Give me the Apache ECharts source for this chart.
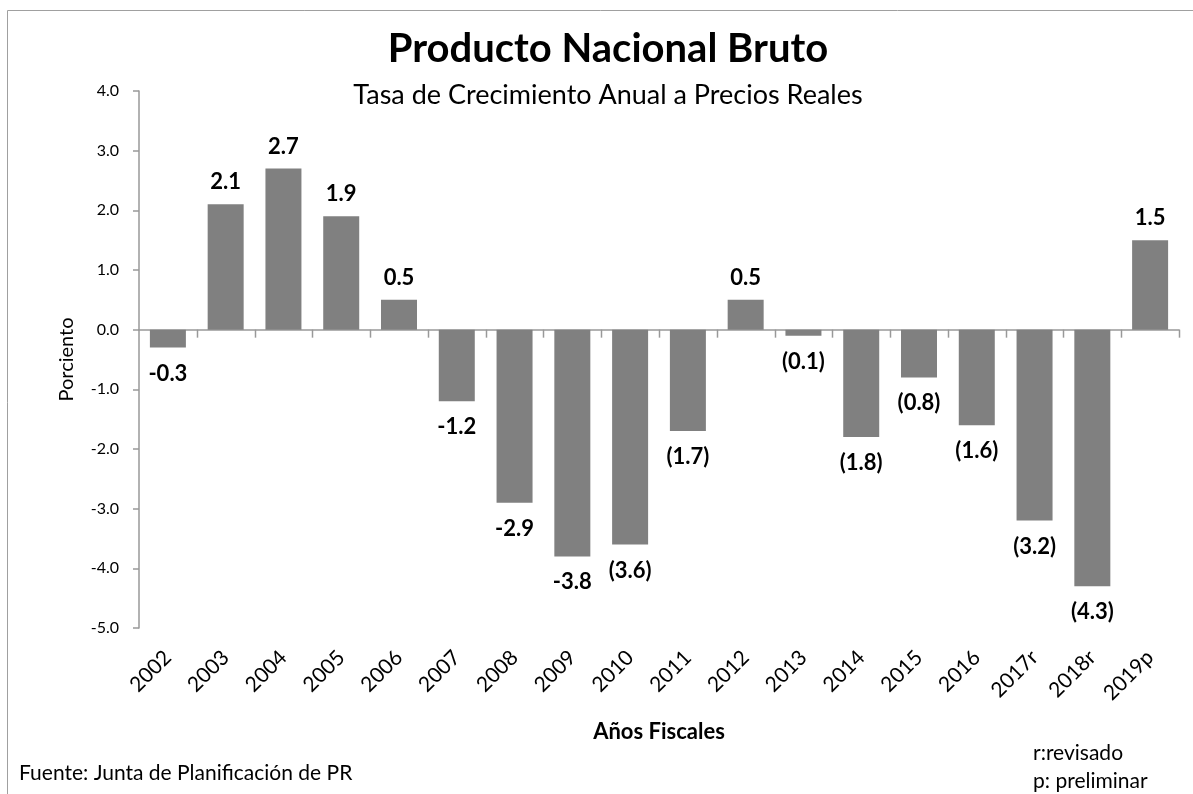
<!DOCTYPE html>
<html><head><meta charset="utf-8">
<script src="https://cdn.jsdelivr.net/npm/echarts@6/dist/echarts.min.js"></script>
<style>html,body{margin:0;padding:0;background:#fff}#c{width:1193px;height:794px}</style>
</head><body><div id="c"></div>
<script>
const categories = ['2002','2003','2004','2005','2006','2007','2008','2009','2010','2011','2012','2013','2014','2015','2016','2017r','2018r','2019p'];
const values = [-0.3, 2.1, 2.7, 1.9, 0.5, -1.2, -2.9, -3.8, -3.6, -1.7, 0.5, -0.1, -1.8, -0.8, -1.6, -3.2, -4.3, 1.5];
const valueLabels = ['-0.3','2.1','2.7','1.9','0.5','-1.2','-2.9','-3.8','(3.6)','(1.7)','0.5','(0.1)','(1.8)','(0.8)','(1.6)','(3.2)','(4.3)','1.5'];
const yTicks = {min: -5, max: 4, interval: 1};

const FONT = 'Lato, "Open Sans", sans-serif';
const AXIS_GRAY = '#999999';
const chart = echarts.init(document.getElementById('c'));
chart.setOption({
  animation: false,
  textStyle: {fontFamily: FONT, color: '#000'},
  title: [
    {text: 'Producto Nacional Bruto', left: 603, textAlign: 'center', top: 24,
     textStyle: {fontFamily: FONT, fontSize: 40, fontWeight: 'bold', color: '#000'}},
    {text: 'Tasa de Crecimiento Anual a Precios Reales', left: 603, textAlign: 'center', top: 77,
     textStyle: {fontFamily: FONT, fontSize: 27, fontWeight: 'normal', color: '#000'}}
  ],
  grid: {left: 139, right: 14, top: 91, bottom: 166, containLabel: false},
  xAxis: [
    {type: 'category', data: categories, position: 'bottom',
     axisLine: {onZero: true, lineStyle: {color: AXIS_GRAY, width: 1.5}},
     axisTick: {show: false},
     axisLabel: {show: false}, splitLine: {show: false}},
    {type: 'category', data: categories, position: 'bottom',
     axisLine: {show: false, onZero: false}, axisTick: {show: false},
     axisLabel: {rotate: 45, fontSize: 21, color: '#000', fontFamily: FONT, margin: 26, interval: 0},
     splitLine: {show: false}}
  ],
  yAxis: {
    type: 'value', min: yTicks.min, max: yTicks.max, interval: yTicks.interval,
    name: 'Porciento', nameLocation: 'middle', nameGap: 62, nameRotate: 90,
    nameTextStyle: {fontSize: 20, color: '#000', fontFamily: FONT},
    axisLine: {show: true, lineStyle: {color: AXIS_GRAY, width: 1.5}},
    axisTick: {show: true, length: 6, lineStyle: {color: AXIS_GRAY, width: 1.5}},
    axisLabel: {fontSize: 16, color: '#000', margin: 20, fontFamily: FONT, formatter: v => v.toFixed(1)},
    splitLine: {show: false}
  },
  series: [{
    type: 'bar', xAxisIndex: 0, barWidth: 36,
    data: values.map(v => v < 0 ? {value: v, label: {position: 'bottom', distance: 15}} : v),
    itemStyle: {color: '#808080'},
    label: {
      show: true, fontSize: 22, fontWeight: 'bold', color: '#000', fontFamily: FONT,
      formatter: p => valueLabels[p.dataIndex],
      position: 'top', distance: 11
    }
  }, {
    // tick marks on the zero line, at the right edge of each category band
    type: 'custom', xAxisIndex: 0, silent: true, z: 3,
    data: categories.map((c, i) => [i, 0]),
    renderItem: (params, api) => {
      const p = api.coord([api.value(0), 0]);
      const w = api.size([1, 0])[0];
      const x = Math.round(p[0] + w / 2) + 0.5;
      return {type: 'line', shape: {x1: x, y1: p[1], x2: x, y2: p[1] + 8},
              style: {stroke: AXIS_GRAY, lineWidth: 1.5}};
    }
  }],
  graphic: [
    {type: 'rect', shape: {x: 7.5, y: 10.5, width: 1200, height: 800},
     style: {fill: 'none', stroke: '#a0a0a0', lineWidth: 1}, silent: true},
    {type: 'text', x: 659, y: 721, style: {text: 'Años Fiscales', font: 'bold 22px ' + FONT, fill: '#000', textAlign: 'center', textVerticalAlign: 'top'}},
    {type: 'text', left: 19, top: 763, style: {text: 'Fuente: Junta de Planificación de PR', font: '21px ' + FONT, fill: '#000'}},
    {type: 'text', left: 1033, top: 743, style: {text: 'r:revisado', font: '21px ' + FONT, fill: '#000'}},
    {type: 'text', left: 1033, top: 771, style: {text: 'p: preliminar', font: '21px ' + FONT, fill: '#000'}}
  ]
});
</script>
</body></html>
